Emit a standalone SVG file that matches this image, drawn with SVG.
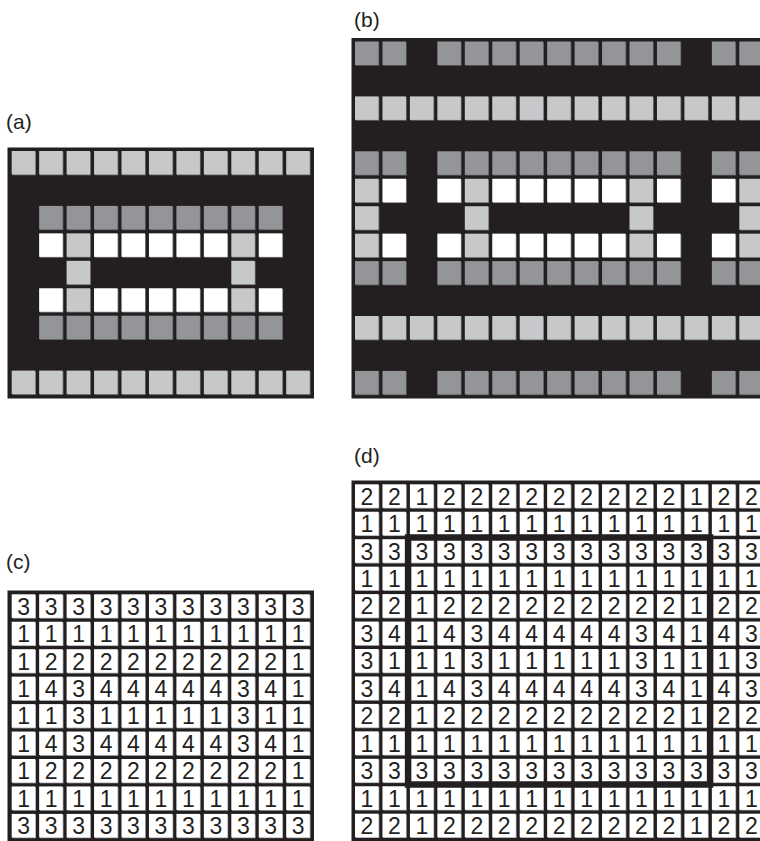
<svg xmlns="http://www.w3.org/2000/svg" xmlns:xlink="http://www.w3.org/1999/xlink" width="760" height="841" viewBox="0 0 760 841">
<style>
.bg{fill:#231f20}
.lbl{font-family:"Liberation Sans",Arial,sans-serif;font-size:21px;fill:#231f20}
.n{font-family:"Liberation Sans",Arial,sans-serif;font-size:23px;fill:#231f20;text-anchor:middle}
.box{fill:none;stroke:#231f20;stroke-width:6.5}
</style>
<defs>
<g id="L"><rect x="0.8" y="0.8" width="23.5" height="23.5" fill="#6d6e71"/><rect width="23.5" height="23.5" fill="#c7c8ca"/></g>
<g id="M"><rect x="0.8" y="0.8" width="23.5" height="23.5" fill="#58595b"/><rect width="23.5" height="23.5" fill="#939598"/></g>
<g id="W"><rect x="0.8" y="0.8" width="23.5" height="23.5" fill="#808285"/><rect width="23.5" height="23.5" fill="#ffffff"/></g>
<g id="T"><rect x="0.8" y="0.8" width="23.5" height="23.5" fill="#a7a9ac"/><rect width="23.5" height="23.5" fill="#ffffff"/></g>
<g id="aRowL"><use href="#L" x="11.7"/><use href="#L" x="39.15"/><use href="#L" x="66.6"/><use href="#L" x="94.05"/><use href="#L" x="121.5"/><use href="#L" x="148.95"/><use href="#L" x="176.4"/><use href="#L" x="203.85"/><use href="#L" x="231.3"/><use href="#L" x="258.75"/><use href="#L" x="286.2"/></g>
<g id="aRowM"><use href="#M" x="39.15"/><use href="#M" x="66.6"/><use href="#M" x="94.05"/><use href="#M" x="121.5"/><use href="#M" x="148.95"/><use href="#M" x="176.4"/><use href="#M" x="203.85"/><use href="#M" x="231.3"/><use href="#M" x="258.75"/></g>
<g id="aRowW"><use href="#W" x="39.15"/><use href="#L" x="66.6"/><use href="#W" x="94.05"/><use href="#W" x="121.5"/><use href="#W" x="148.95"/><use href="#W" x="176.4"/><use href="#W" x="203.85"/><use href="#L" x="231.3"/><use href="#W" x="258.75"/></g>
<g id="aRowS"><use href="#L" x="66.6"/><use href="#L" x="231.3"/></g>
<g id="bRowM"><use href="#M" x="355"/><use href="#M" x="382.45"/><use href="#M" x="437.35"/><use href="#M" x="464.8"/><use href="#M" x="492.25"/><use href="#M" x="519.7"/><use href="#M" x="547.15"/><use href="#M" x="574.6"/><use href="#M" x="602.05"/><use href="#M" x="629.5"/><use href="#M" x="656.95"/><use href="#M" x="711.85"/><use href="#M" x="739.3"/></g>
<g id="bRowL"><use href="#L" x="355"/><use href="#L" x="382.45"/><use href="#L" x="409.9"/><use href="#L" x="437.35"/><use href="#L" x="464.8"/><use href="#L" x="492.25"/><use href="#L" x="519.7"/><use href="#L" x="547.15"/><use href="#L" x="574.6"/><use href="#L" x="602.05"/><use href="#L" x="629.5"/><use href="#L" x="656.95"/><use href="#L" x="684.4"/><use href="#L" x="711.85"/><use href="#L" x="739.3"/></g>
<g id="bRowW"><use href="#L" x="355"/><use href="#W" x="382.45"/><use href="#W" x="437.35"/><use href="#L" x="464.8"/><use href="#W" x="492.25"/><use href="#W" x="519.7"/><use href="#W" x="547.15"/><use href="#W" x="574.6"/><use href="#W" x="602.05"/><use href="#L" x="629.5"/><use href="#W" x="656.95"/><use href="#W" x="711.85"/><use href="#L" x="739.3"/></g>
<g id="bRowS"><use href="#L" x="355"/><use href="#L" x="464.8"/><use href="#L" x="629.5"/><use href="#L" x="739.3"/></g>
<g id="cRow"><use href="#T" x="11.7"/><use href="#T" x="39.15"/><use href="#T" x="66.6"/><use href="#T" x="94.05"/><use href="#T" x="121.5"/><use href="#T" x="148.95"/><use href="#T" x="176.4"/><use href="#T" x="203.85"/><use href="#T" x="231.3"/><use href="#T" x="258.75"/><use href="#T" x="286.2"/></g>
<g id="dRow"><use href="#T" x="355"/><use href="#T" x="382.45"/><use href="#T" x="409.9"/><use href="#T" x="437.35"/><use href="#T" x="464.8"/><use href="#T" x="492.25"/><use href="#T" x="519.7"/><use href="#T" x="547.15"/><use href="#T" x="574.6"/><use href="#T" x="602.05"/><use href="#T" x="629.5"/><use href="#T" x="656.95"/><use href="#T" x="684.4"/><use href="#T" x="711.85"/><use href="#T" x="739.3"/></g>
</defs>
<rect width="760" height="841" fill="#ffffff"/>

<g id="panel-a">
<text class="lbl" x="6" y="129">(a)</text>
<rect class="bg" x="7.5" y="147.5" width="306.5" height="251"/>
<use href="#aRowL" y="151"/>
<use href="#aRowM" y="205.9"/>
<use href="#aRowW" y="233.35"/>
<use href="#aRowS" y="260.8"/>
<use href="#aRowW" y="288.25"/>
<use href="#aRowM" y="315.7"/>
<use href="#aRowL" y="370.6"/>
</g>

<g id="panel-b">
<text class="lbl" x="354" y="27">(b)</text>
<rect class="bg" x="351.5" y="38" width="420" height="360.5"/>
<use href="#bRowM" y="41.5"/>
<use href="#bRowL" y="96.4"/>
<use href="#bRowM" y="151.3"/>
<use href="#bRowW" y="178.75"/>
<use href="#bRowS" y="206.2"/>
<use href="#bRowW" y="233.65"/>
<use href="#bRowM" y="261.1"/>
<use href="#bRowL" y="316"/>
<use href="#bRowM" y="370.9"/>
</g>

<g id="panel-c">
<text class="lbl" x="6" y="569">(c)</text>
<rect class="bg" x="7.5" y="590.5" width="306.5" height="252"/>
<use href="#cRow" y="594.3"/>
<use href="#cRow" y="621.75"/>
<use href="#cRow" y="649.2"/>
<use href="#cRow" y="676.65"/>
<use href="#cRow" y="704.1"/>
<use href="#cRow" y="731.55"/>
<use href="#cRow" y="759"/>
<use href="#cRow" y="786.45"/>
<use href="#cRow" y="813.9"/>
<text class="n" y="614.6" x="23.7 51.15 78.6 106.05 133.5 160.95 188.4 215.85 243.3 270.75 298.2">33333333333</text>
<text class="n" y="642.05" x="23.7 51.15 78.6 106.05 133.5 160.95 188.4 215.85 243.3 270.75 298.2">11111111111</text>
<text class="n" y="669.5" x="23.7 51.15 78.6 106.05 133.5 160.95 188.4 215.85 243.3 270.75 298.2">12222222221</text>
<text class="n" y="696.95" x="23.7 51.15 78.6 106.05 133.5 160.95 188.4 215.85 243.3 270.75 298.2">14344444341</text>
<text class="n" y="724.4" x="23.7 51.15 78.6 106.05 133.5 160.95 188.4 215.85 243.3 270.75 298.2">11311111311</text>
<text class="n" y="751.85" x="23.7 51.15 78.6 106.05 133.5 160.95 188.4 215.85 243.3 270.75 298.2">14344444341</text>
<text class="n" y="779.3" x="23.7 51.15 78.6 106.05 133.5 160.95 188.4 215.85 243.3 270.75 298.2">12222222221</text>
<text class="n" y="806.75" x="23.7 51.15 78.6 106.05 133.5 160.95 188.4 215.85 243.3 270.75 298.2">11111111111</text>
<text class="n" y="834.2" x="23.7 51.15 78.6 106.05 133.5 160.95 188.4 215.85 243.3 270.75 298.2">33333333333</text>
</g>

<g id="panel-d">
<text class="lbl" x="354" y="463">(d)</text>
<rect class="bg" x="351.5" y="480.5" width="420" height="362"/>
<use href="#dRow" y="484.3"/>
<use href="#dRow" y="511.75"/>
<use href="#dRow" y="539.2"/>
<use href="#dRow" y="566.65"/>
<use href="#dRow" y="594.1"/>
<use href="#dRow" y="621.55"/>
<use href="#dRow" y="649"/>
<use href="#dRow" y="676.45"/>
<use href="#dRow" y="703.9"/>
<use href="#dRow" y="731.35"/>
<use href="#dRow" y="758.8"/>
<use href="#dRow" y="786.25"/>
<use href="#dRow" y="813.7"/>
<rect class="box" x="408.1" y="537.5" width="302" height="247"/>
<text class="n" y="504.6" x="367 394.45 421.9 449.35 476.8 504.25 531.7 559.15 586.6 614.05 641.5 668.95 696.4 723.85 751.3">221222222222122</text>
<text class="n" y="532.05" x="367 394.45 421.9 449.35 476.8 504.25 531.7 559.15 586.6 614.05 641.5 668.95 696.4 723.85 751.3">111111111111111</text>
<text class="n" y="559.5" x="367 394.45 421.9 449.35 476.8 504.25 531.7 559.15 586.6 614.05 641.5 668.95 696.4 723.85 751.3">333333333333333</text>
<text class="n" y="586.95" x="367 394.45 421.9 449.35 476.8 504.25 531.7 559.15 586.6 614.05 641.5 668.95 696.4 723.85 751.3">111111111111111</text>
<text class="n" y="614.4" x="367 394.45 421.9 449.35 476.8 504.25 531.7 559.15 586.6 614.05 641.5 668.95 696.4 723.85 751.3">221222222222122</text>
<text class="n" y="641.85" x="367 394.45 421.9 449.35 476.8 504.25 531.7 559.15 586.6 614.05 641.5 668.95 696.4 723.85 751.3">341434444434143</text>
<text class="n" y="669.3" x="367 394.45 421.9 449.35 476.8 504.25 531.7 559.15 586.6 614.05 641.5 668.95 696.4 723.85 751.3">311131111131113</text>
<text class="n" y="696.75" x="367 394.45 421.9 449.35 476.8 504.25 531.7 559.15 586.6 614.05 641.5 668.95 696.4 723.85 751.3">341434444434143</text>
<text class="n" y="724.2" x="367 394.45 421.9 449.35 476.8 504.25 531.7 559.15 586.6 614.05 641.5 668.95 696.4 723.85 751.3">221222222222122</text>
<text class="n" y="751.65" x="367 394.45 421.9 449.35 476.8 504.25 531.7 559.15 586.6 614.05 641.5 668.95 696.4 723.85 751.3">111111111111111</text>
<text class="n" y="779.1" x="367 394.45 421.9 449.35 476.8 504.25 531.7 559.15 586.6 614.05 641.5 668.95 696.4 723.85 751.3">333333333333333</text>
<text class="n" y="806.55" x="367 394.45 421.9 449.35 476.8 504.25 531.7 559.15 586.6 614.05 641.5 668.95 696.4 723.85 751.3">111111111111111</text>
<text class="n" y="834" x="367 394.45 421.9 449.35 476.8 504.25 531.7 559.15 586.6 614.05 641.5 668.95 696.4 723.85 751.3">221222222222122</text>
</g>
</svg>
